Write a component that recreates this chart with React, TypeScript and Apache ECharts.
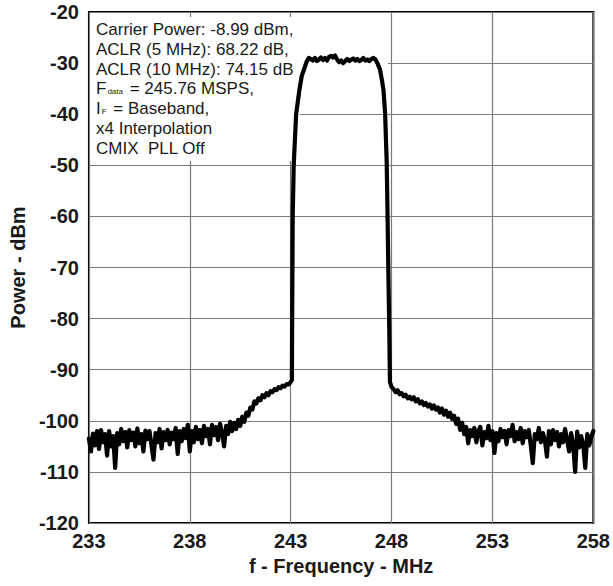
import React, { useEffect, useRef } from "react";
import * as echarts from "echarts";

const FONT = '"Liberation Sans", Arial, Helvetica, sans-serif';

const xMin = 233;
const xMax = 258;
const xStep = 5;
const yMin = -120;
const yMax = -20;
const yStep = 10;

const xAxisTitle = "f - Frequency - MHz";
const yAxisTitle = "Power - dBm";

const annotationLines: string[] = [
  "Carrier Power: -8.99 dBm,",
  "ACLR (5 MHz): 68.22 dB,",
  "ACLR (10 MHz): 74.15 dB",
  "{n|F}{s|data}{n| = 245.76 MSPS,}",
  "{n|I}{s|F}{n| = Baseband,}",
  "x4 Interpolation",
  "CMIX  PLL Off",
];

// [frequency MHz, power dBm]
const leftFloor: [number, number][] = [
  [233.0, -103.5], [233.1, -106.0], [233.2, -102.5], [233.3, -104.8], [233.4, -102.0],
  [233.5, -105.5], [233.6, -101.8], [233.7, -104.2], [233.8, -102.6], [233.9, -106.8],
  [234.0, -102.0], [234.1, -105.0], [234.2, -103.0], [234.3, -109.2], [234.4, -102.4],
  [234.5, -104.6], [234.6, -101.6], [234.7, -104.0], [234.8, -102.2], [234.9, -105.2],
  [235.0, -101.8], [235.1, -103.8], [235.2, -102.3], [235.3, -105.0], [235.4, -101.5],
  [235.5, -104.4], [235.6, -102.6], [235.7, -106.0], [235.8, -101.9], [235.9, -103.6],
  [236.0, -102.0], [236.1, -104.8], [236.2, -107.6], [236.3, -102.4], [236.4, -104.2],
  [236.5, -101.6], [236.6, -105.4], [236.7, -102.2], [236.8, -103.8], [236.9, -101.8],
  [237.0, -104.6], [237.1, -102.3], [237.2, -103.6], [237.3, -101.4], [237.4, -106.5],
  [237.5, -102.0], [237.6, -104.0], [237.7, -101.6], [237.8, -103.4], [237.9, -100.8],
  [238.0, -106.0], [238.1, -102.0], [238.2, -104.2], [238.3, -101.2], [238.4, -103.6],
  [238.5, -101.8], [238.6, -104.4], [238.7, -101.0], [238.8, -103.0], [238.9, -101.6],
  [239.0, -104.6], [239.1, -100.8], [239.2, -102.8], [239.3, -101.2], [239.4, -103.8],
  [239.5, -100.6], [239.6, -102.4], [239.7, -105.0], [239.8, -101.0], [239.9, -102.6],
  [240.0, -100.2],
];

const leftShoulder: [number, number][] = [
  [240.1, -102.0], [240.2, -100.4], [240.3, -101.6], [240.4, -99.8], [240.5, -101.0],
  [240.6, -99.2], [240.7, -100.2], [240.8, -98.4], [240.9, -99.0], [241.0, -97.4],
  [241.1, -97.8], [241.2, -96.2], [241.3, -96.6], [241.4, -95.6], [241.5, -96.0],
  [241.6, -95.0], [241.7, -95.4], [241.8, -94.6], [241.9, -95.0], [242.0, -94.2],
  [242.1, -94.4], [242.2, -93.8], [242.3, -94.0], [242.4, -93.4], [242.5, -93.6],
  [242.6, -93.1], [242.7, -93.3], [242.8, -92.8], [242.9, -92.9], [243.0, -92.4],
  [243.06, -92.0],
];

const leftEdge: [number, number][] = [
  [243.07, -83.0], [243.1, -60.0], [243.15, -50.0], [243.27, -40.0], [243.43, -35.3],
  [243.55, -32.5], [243.68, -31.0], [243.8, -29.6], [243.9, -29.0],
];

const plateau: [number, number][] = [
  [244.0, -29.2], [244.1, -29.5], [244.2, -29.0], [244.3, -29.6], [244.4, -29.3],
  [244.5, -28.9], [244.6, -29.4], [244.7, -29.0], [244.8, -29.5], [244.9, -28.8],
  [245.0, -28.6], [245.1, -28.9], [245.2, -28.5], [245.3, -29.3], [245.4, -29.8],
  [245.5, -29.5], [245.6, -30.0], [245.7, -29.6], [245.8, -29.2], [245.9, -29.6],
  [246.0, -29.3], [246.1, -29.1], [246.2, -29.5], [246.3, -29.2], [246.4, -29.6],
  [246.5, -29.4], [246.6, -29.0], [246.7, -29.5], [246.8, -29.3], [246.9, -29.6],
  [247.0, -29.2], [247.1, -29.0], [247.2, -29.3],
];

const rightEdge: [number, number][] = [
  [247.32, -30.2], [247.43, -31.3], [247.52, -33.3], [247.6, -35.3], [247.68, -39.8],
  [247.76, -49.5], [247.8, -59.3], [247.84, -70.5], [247.89, -82.8], [247.92, -92.4],
];

const rightShoulder: [number, number][] = [
  [248.0, -93.4], [248.1, -93.8], [248.2, -94.4], [248.3, -94.0], [248.4, -94.8],
  [248.5, -94.6], [248.6, -95.2], [248.7, -94.9], [248.8, -95.6], [248.9, -95.3],
  [249.0, -95.8], [249.1, -95.4], [249.2, -96.2], [249.3, -95.8], [249.4, -96.6],
  [249.5, -96.2], [249.6, -96.9], [249.7, -96.5], [249.8, -97.2], [249.9, -96.8],
  [250.0, -97.6], [250.1, -97.0], [250.2, -97.8], [250.3, -97.4], [250.4, -98.4],
  [250.5, -97.6], [250.6, -98.8], [250.7, -98.0], [250.8, -99.2], [250.9, -98.4],
  [251.0, -99.6], [251.1, -99.0], [251.2, -100.6], [251.3, -99.6], [251.4, -101.8],
  [251.5, -100.4], [251.6, -102.6], [251.7, -101.2], [251.8, -104.4], [251.9, -101.8],
];

const rightFloor: [number, number][] = [
  [252.0, -103.0], [252.1, -101.4], [252.2, -104.2], [252.3, -102.0], [252.4, -101.2],
  [252.5, -104.8], [252.6, -102.2], [252.7, -103.4], [252.8, -101.0], [252.9, -103.8],
  [253.0, -102.0], [253.1, -106.3], [253.2, -102.4], [253.3, -104.0], [253.4, -101.6],
  [253.5, -103.2], [253.6, -102.0], [253.7, -104.6], [253.8, -101.8], [253.9, -103.0],
  [254.0, -100.8], [254.1, -104.0], [254.2, -102.2], [254.3, -103.6], [254.4, -101.4],
  [254.5, -104.4], [254.6, -102.0], [254.7, -103.2], [254.8, -101.8], [254.9, -104.8],
  [255.0, -108.3], [255.1, -102.6], [255.2, -103.6], [255.3, -101.4], [255.4, -104.2],
  [255.5, -102.4], [255.6, -103.8], [255.7, -107.0], [255.8, -102.0], [255.9, -104.6],
  [256.0, -101.8], [256.1, -103.8], [256.2, -102.2], [256.3, -105.0], [256.4, -102.6],
  [256.5, -104.2], [256.6, -101.6], [256.7, -103.8], [256.8, -106.0], [256.9, -102.4],
  [257.0, -104.6], [257.1, -110.0], [257.2, -102.1], [257.3, -105.2], [257.4, -103.0],
  [257.5, -104.6], [257.6, -109.2], [257.7, -102.6], [257.8, -104.8], [257.9, -103.2],
  [258.0, -102.0],
];

const trace = [
  ...leftFloor,
  ...leftShoulder,
  ...leftEdge,
  ...plateau,
  ...rightEdge,
  ...rightShoulder,
  ...rightFloor,
];

export default function App() {
  const ref = useRef<HTMLDivElement>(null);

  useEffect(() => {
    if (!ref.current) return;
    const chart = echarts.init(ref.current, undefined, { renderer: "svg" });

    const textEls = annotationLines.map((line, i) => ({
      type: "text",
      z: 2,
      left: 96,
      top: 21 + i * 19.8,
      style: {
        text: line,
        fill: "#1a1a1a",
        font: `17px ${FONT}`,
        fontFamily: FONT,
        fontSize: 17,
        rich: {
          n: { fontSize: 17, fontFamily: FONT, fill: "#1a1a1a" },
          s: {
            fontSize: 8,
            fontFamily: FONT,
            fill: "#1a1a1a",
            verticalAlign: "bottom",
            padding: [0, 2, 2, 1],
          },
        },
      },
    }));

    chart.setOption({
      animation: false,
      backgroundColor: "#ffffff",
      grid: {
        left: 85,
        right: 17,
        top: 12,
        bottom: 63,
        show: true,
        borderColor: "#000000",
        borderWidth: 2,
        backgroundColor: "transparent",
      },
      xAxis: {
        type: "value",
        min: xMin,
        max: xMax,
        interval: xStep,
        name: xAxisTitle,
        nameLocation: "middle",
        nameGap: 31,
        nameTextStyle: {
          fontFamily: FONT,
          fontWeight: "bold",
          fontSize: 20,
          color: "#1a1a1a",
        },
        axisLine: { show: false },
        axisTick: { show: false },
        axisLabel: {
          margin: 8,
          fontFamily: FONT,
          fontWeight: "bold",
          fontSize: 20,
          color: "#1a1a1a",
        },
        splitLine: { show: true, lineStyle: { color: "#7a7a7a", width: 1.2 } },
      },
      yAxis: {
        type: "value",
        min: yMin,
        max: yMax,
        interval: yStep,
        name: yAxisTitle,
        nameLocation: "middle",
        nameGap: 56,
        nameTextStyle: {
          fontFamily: FONT,
          fontWeight: "bold",
          fontSize: 20,
          color: "#1a1a1a",
        },
        axisLine: { show: false },
        axisTick: { show: false },
        axisLabel: {
          margin: 10,
          fontFamily: FONT,
          fontWeight: "bold",
          fontSize: 20,
          color: "#1a1a1a",
        },
        splitLine: { show: true, lineStyle: { color: "#7a7a7a", width: 1.2 } },
      },
      graphic: [
        {
          type: "rect",
          z: 1,
          shape: { x: 90, y: 17, width: 210, height: 144 },
          style: { fill: "#ffffff" },
        },
        {
          type: "rect",
          z: 1,
          shape: { x: 300, y: 61, width: 88, height: 5 },
          style: { fill: "#ffffff" },
        },
        ...textEls,
      ],
      series: [
        {
          type: "line",
          z: 3,
          data: trace,
          showSymbol: false,
          symbol: "none",
          lineStyle: { color: "#000000", width: 4.2, join: "round", cap: "round" },
        },
      ],
    });

    return () => {
      chart.dispose();
    };
  }, []);

  return (
    <div
      ref={ref}
      style={{ position: "fixed", left: 0, top: 0, width: 613, height: 586, background: "#fff" }}
    />
  );
}
